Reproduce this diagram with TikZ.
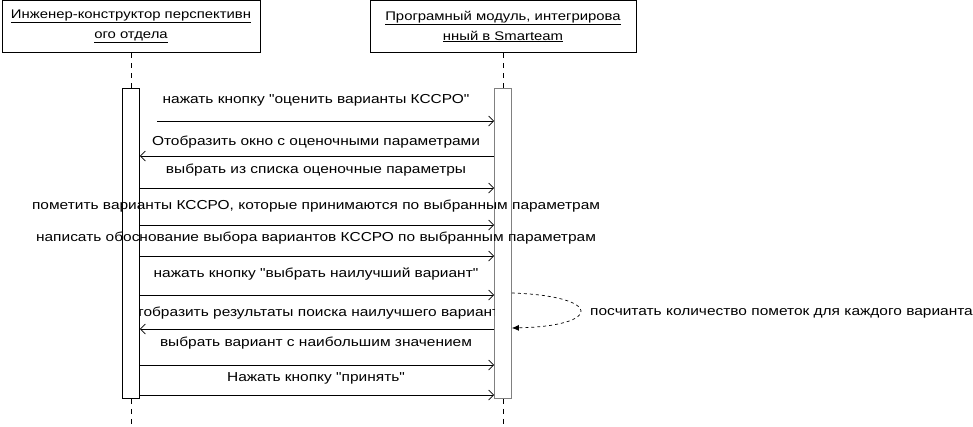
\documentclass[tikz,border=0pt]{standalone}
\usepackage{fontspec}
\setmainfont[FakeStretch=1.19,Ligatures=TeXOff]{Liberation Sans}
\usetikzlibrary{arrows.meta}
\tikzset{
  hdr/.style={draw, line width=1pt, minimum height=52pt, anchor=north, align=center,
              font=\fontsize{12.5}{20}\selectfont, inner sep=0pt},
  life/.style={dash pattern=on 5pt off 5pt, line width=0.6pt},
  actbar/.style={draw, fill=white, line width=0.8pt, minimum width=17pt, minimum height=310pt, anchor=north, inner sep=0pt},
  msg/.style={line width=0.7pt, -{Straight Barb[length=5pt,width=10pt]}},
  selfmsg/.style={dashed, line width=0.7pt, -{Latex[length=7pt,width=6pt]}},
  lbl/.style={font=\fontsize{13}{15}\selectfont, inner sep=0pt}
}
\begin{document}
\begin{tikzpicture}[x=1pt,y=-1pt]
\useasboundingbox (0,0) rectangle (973,426);
% headers
\node[hdr, minimum width=258pt] (hL) at (131,0) {\underline{Инженер-конструктор перспективн}\\\underline{ого отдела}};
\node[hdr, minimum width=266pt] (hR) at (503,0) {\underline{Програмный модуль, интегрирова}\\\underline{нный в Smarteam}};
% lifeline end points
\coordinate (endL) at (131,426);
\coordinate (endR) at (503,426);
% activation bars
\node[actbar] (barL) at (131,88) {};
\node[actbar, draw=gray] (barR) at (503,88) {};
\draw[life] (hL.south) -- (barL.north);
\draw[life] (hR.south) -- (barR.north);
\draw[life] (barL.south) -- (endL);
\draw[life] (barR.south) -- (endR);
% message rows
\coordinate (s1) at (157,121);
\coordinate (m2) at (0,156);
\coordinate (m3) at (0,188);
\coordinate (m4) at (0,225);
\coordinate (m5) at (0,256);
\coordinate (m6) at (0,295);
\coordinate (m7) at (0,329);
\coordinate (m8) at (0,365);
\coordinate (m9) at (0,395);
\draw[msg] (s1) -- (barR.west |- s1);
\draw[msg] (barR.west |- m2) -- (barL.east |- m2);
\draw[msg] (barL.east |- m3) -- (barR.west |- m3);
\draw[msg] (barL.east |- m4) -- (barR.west |- m4);
\draw[msg] (barL.east |- m5) -- (barR.west |- m5);
\draw[msg] (barL.east |- m6) -- (barR.west |- m6);
\draw[msg] (barR.west |- m7) -- (barL.east |- m7);
\draw[msg] (barL.east |- m8) -- (barR.west |- m8);
\draw[msg] (barL.east |- m9) -- (barR.west |- m9);
% labels
\node[lbl] (t1) at (316,100) {нажать кнопку "оценить варианты КССРО"};
\node[lbl] (t2) at (316,142) {Отобразить окно с оценочными параметрами};
\node[lbl] (t3) at (316,170) {выбрать из списка оценочные параметры};
\node[lbl] (t4) at (316,206) {пометить варианты КССРО, которые принимаются по выбранным параметрам};
\node[lbl] (t5) at (316,238) {написать обоснование выбора вариантов КССРО по выбранным параметрам};
\node[lbl] (t6) at (316,274) {нажать кнопку "выбрать наилучший вариант"};
\begin{scope}
\clip (barL.east |- 0,300) rectangle (barR.west |- 0,325);
\node[lbl] (t7) at (318,313) {отобразить результаты поиска наилучшего варианта};
\end{scope}
\node[lbl] (t8) at (316,343) {выбрать вариант с наибольшим значением};
\node[lbl] (t9) at (316,378) {Нажать кнопку "принять"};
% self message
\coordinate (sa) at (0,293);
\coordinate (sb) at (0,328);
\draw[selfmsg] (barR.east |- sa) .. controls (603,296) and (603,326) .. (barR.east |- sb);
\node[lbl, anchor=west] (ts) at (590,313) {посчитать количество пометок для каждого варианта};
\end{tikzpicture}
\end{document}
